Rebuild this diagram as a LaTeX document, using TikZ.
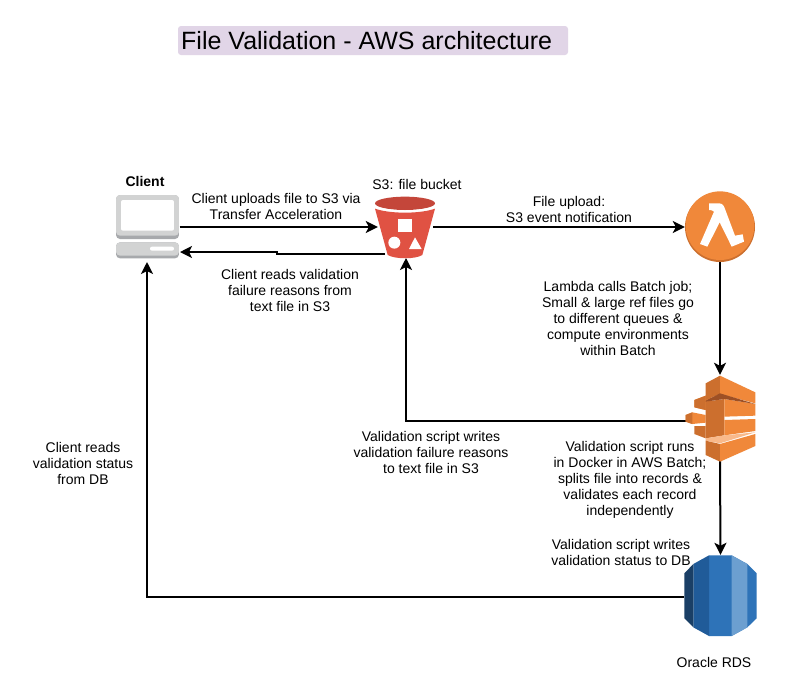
\documentclass[tikz,border=0pt]{standalone}
\usepackage{fontspec}
\setmainfont{Liberation Sans}
\usetikzlibrary{arrows.meta}
\definecolor{titlefill}{HTML}{E1D5E7}
\definecolor{awsorange}{HTML}{F0883A}
\definecolor{awsorangemid}{HTML}{CC6F2E}
\definecolor{awsorangedark}{HTML}{9D5025}
\definecolor{awsorangelight}{HTML}{F9B98A}
\definecolor{awsred}{HTML}{E05243}
\definecolor{awsredtop}{HTML}{C4463A}
\definecolor{rdsmain}{HTML}{2E73B8}
\definecolor{rdsmid}{HTML}{205B99}
\definecolor{rdsdark}{HTML}{1A3F66}
\definecolor{rdslight}{HTML}{6C9FD0}
\definecolor{clientgray}{HTML}{D2D3D3}
\definecolor{clientdark}{HTML}{A7A9AC}
\tikzset{
	label text/.style={font=\fontsize{14}{16}\selectfont,align=center,inner sep=0pt},
	link/.style={draw=black,line width=2pt,-{Stealth[length=12pt,width=12pt,inset=3pt]}},
}
\begin{document}
\begin{tikzpicture}[x=1pt,y=-1pt]
	\useasboundingbox (0,0) rectangle (791,697);
	\fill[white] (0,0) rectangle (791,697);

	\node[fill=titlefill,rounded corners=3pt,minimum width=390pt,minimum height=29pt,inner sep=0pt] (titlebar) at (373,40.5) {};
	\node[font=\fontsize{25}{28}\selectfont,anchor=west,inner sep=0pt] (title) at (181,41) {File Validation - AWS architecture};

	\node[minimum width=64pt,minimum height=64pt,inner sep=0pt] (client) at (147.5,227) {};
	\node[minimum width=55pt,minimum height=62pt,inner sep=0pt] (bucket) at (405.5,227) {};
	\node[circle,minimum size=70pt,inner sep=0pt] (lambda) at (720,227) {};
	\node[minimum width=70pt,minimum height=86pt,inner sep=0pt] (batch) at (720,418) {};
	\node[minimum width=73pt,minimum height=84pt,inner sep=0pt] (rds) at (720.5,597) {};
	\coordinate (bucketback) at (385,254);
	\coordinate (clientback) at (180,252);
	\coordinate (clientin) at (147,262);
	\coordinate (bucketin) at (406,258);
	\coordinate (batchout) at (686,421);

	\draw[link] (client.east) -- (bucket.west);
	\draw[link] (bucket.east) -- (lambda.west);
	\draw[link] (lambda.south) -- (batch.north);
	\draw[link] (batchout) -| (bucketin);
	\draw[link] (batch.south) -- (rds.north);
	\draw[link] (rds.west) -| (clientin);

	\begin{scope}[shift={(110,190)},x=0.3333pt,y=-0.3333pt]
		\fill[clientdark,rounded corners=4pt] (18,15) rectangle (207,147);
		\fill[clientgray,rounded corners=4pt] (18,15) rectangle (207,137);
		\fill[white,rounded corners=2pt] (33,30) rectangle (192,122);
		\fill[clientdark,rounded corners=4pt] (18,157) rectangle (207,205);
		\fill[clientgray,rounded corners=4pt] (18,157) rectangle (207,197);
		\fill[white,rounded corners=2pt] (120,170) rectangle (192,182);
	\end{scope}

	\begin{scope}[shift={(370,190)},x=0.3333pt,y=-0.3333pt]
		\fill[awsred] (15,56) .. controls (60,72) and (150,72) .. (195,56) -- (157,195) .. controls (137,208) and (75,208) .. (53,195) -- cycle;
		\fill[awsredtop] (105,40) ellipse (90 and 20);
		\draw[white,line width=0.8pt] (17,50) .. controls (60,66) and (150,66) .. (193,50);
		\fill[white] (85,88) rectangle (125,125);
		\fill[white] (73,158) circle (18);
		\fill[white] (135,142) -- (155,177) -- (117,177) -- cycle;
	\end{scope}

	\begin{scope}[shift={(695,195)},x=0.3333pt,y=-0.3333pt]
		\fill[awsorangemid] (75,96) circle (105);
		\fill[awsorange] (75,92) circle (103);
		\fill[white] (42,25) -- (72,25) .. controls (82,25) and (87,32) .. (90,42) -- (120,122) -- (143,118) -- (147,140) -- (110,155) -- (74,82) -- (37,155) -- (15,147) -- (57,50) .. controls (54,46) and (48,45) .. (42,45) -- cycle;
	\end{scope}

	\begin{scope}[shift={(680,370)},x=0.3333pt,y=-0.3333pt]
		\fill[awsorange] (43,90) -- (77,77) -- (100,85) -- (77,120) -- (43,112) -- cycle;
		\fill[awsorangemid] (43,90) -- (77,77) -- (77,120) -- (43,112) -- cycle;
		\fill[awsorange] (17,135) -- (37,127) -- (77,135) -- (77,158) -- (37,162) -- (17,155) -- cycle;
		\fill[awsorangemid] (17,135) -- (37,127) -- (37,162) -- (17,155) -- cycle;
		\fill[awsorangemid] (43,168) -- (77,168) -- (77,205) -- (43,192) -- cycle;

		\fill[awsorangemid] (77,40) -- (120,17) -- (120,72) -- (77,90) -- cycle;
		\fill[awsorange] (120,17) -- (226,67) -- (226,100) -- (120,72) -- cycle;
		\fill[awsorangemid] (77,95) -- (133,87) -- (133,196) -- (77,205) -- cycle;
		\fill[awsorange] (133,87) -- (226,102) -- (226,137) -- (133,140) -- cycle;
		\fill[awsorange] (133,150) -- (226,147) -- (226,183) -- (133,196) -- cycle;
		\fill[awsorangedark] (77,92) -- (120,70) -- (226,102) -- (133,87) -- (77,95) -- cycle;
		\fill[awsorangelight] (77,205) -- (133,196) -- (226,187) -- (120,220) -- (77,212) -- cycle;
		\fill[awsorangemid] (77,212) -- (120,222) -- (120,275) -- (77,255) -- cycle;
		\fill[awsorange] (120,222) -- (226,192) -- (226,228) -- (120,275) -- cycle;
	\end{scope}

	\begin{scope}[shift={(660,540)},x=0.3333pt,y=-0.3333pt]
		\fill[rdsmain] (147,46) -- (215,46) -- (262,72) -- (290,100) -- (290,235) -- (262,262) -- (215,288) -- (147,288) -- cycle;
		\fill[rdslight] (215,46) -- (262,72) -- (262,262) -- (215,288) -- cycle;
		\fill[rdsmid] (147,46) -- (100,72) -- (100,262) -- (147,288) -- cycle;
		\fill[rdsdark] (100,72) -- (73,100) -- (73,235) -- (100,262) -- cycle;
	\end{scope}

	\draw[link] (bucketback) -- (277,254) -- (277,252) -- (clientback);

	\node[label text,font=\fontsize{14}{16}\selectfont\bfseries] (clientname) at (145,181) {Client};
	\node[label text] (uploadtext) at (276,206) {Client uploads file to S3 via\\Transfer Acceleration};
	\node[label text] (bucketname) at (417,184) {S3: file bucket};
	\node[label text] (eventtext) at (569,209) {File upload:\\S3 event notification};
	\node[label text] (readtext) at (290,290) {Client reads validation\\failure reasons from\\text file in S3};
	\node[label text] (calltext) at (618,318) {Lambda calls Batch job;\\Small \& large ref files go\\to different queues \&\\compute environments\\within Batch};
	\node[label text] (failtext) at (431,452) {Validation script writes\\validation failure reasons\\to text file in S3};
	\node[label text] (runtext) at (630,480) {Validation script runs\\in Docker in AWS Batch;\\splits file into records \&\\validates each record\\independently};
	\node[label text] (statustext) at (621,552) {Validation script writes\\validation status to DB};
	\node[label text] (dbtext) at (83,463) {Client reads\\validation status\\from DB};
	\node[label text] (rdsname) at (714,662) {Oracle RDS};
\end{tikzpicture}
\end{document}
